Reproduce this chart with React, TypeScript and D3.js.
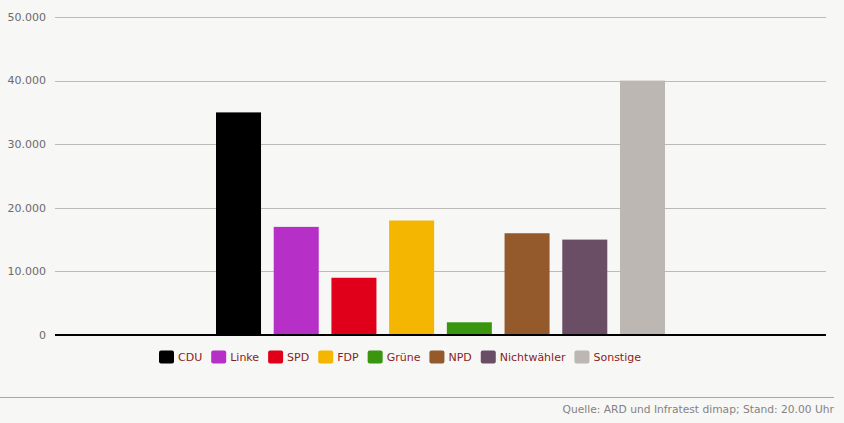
import React, { useEffect, useRef } from "react";
import * as d3 from "d3";

const parties = ["CDU", "Linke", "SPD", "FDP", "Grüne", "NPD", "Nichtwähler", "Sonstige"];
const values = [35000, 17000, 9000, 18000, 2000, 16000, 15000, 40000];
const colors = ["#000000", "#b62fc6", "#e1001a", "#f4b600", "#3a960f", "#955a2b", "#6a4e66", "#bcb7b3"];
const yTicks = [0, 10000, 20000, 30000, 40000, 50000];
const sourceText = "Quelle: ARD und Infratest dimap; Stand: 20.00 Uhr";

const W = 844;
const H = 423;
const FONT = "'DejaVu Sans', Verdana, sans-serif";

export default function App() {
  const ref = useRef<SVGSVGElement | null>(null);

  useEffect(() => {
    const svg = d3.select(ref.current);
    svg.selectAll("*").remove();

    const plotLeft = 55;
    const plotRight = 826;
    const top = 17;
    const bottom = 335;

    svg.append("rect").attr("width", W).attr("height", H).attr("fill", "#f7f7f6");

    const y = d3.scaleLinear().domain([0, 50000]).range([bottom, top]);
    const center = (plotLeft + plotRight) / 2;
    const groupW = 449;
    const x = d3
      .scaleBand<string>()
      .domain(parties)
      .range([center - groupW / 2, center + groupW / 2])
      .paddingInner(0.22)
      .paddingOuter(0);

    const fmt = (v: number) => (v === 0 ? "0" : d3.format(",")(v).replace(/,/g, "."));

    // gridlines
    svg
      .append("g")
      .selectAll("line")
      .data(yTicks.filter((t) => t !== 0))
      .join("line")
      .attr("x1", plotLeft)
      .attr("x2", plotRight)
      .attr("y1", (d) => Math.round(y(d)) + 0.5)
      .attr("y2", (d) => Math.round(y(d)) + 0.5)
      .attr("stroke", "#bfbaba")
      .attr("stroke-width", 1);

    // tick labels
    svg
      .append("g")
      .selectAll("text")
      .data(yTicks)
      .join("text")
      .attr("x", 46)
      .attr("y", (d) => y(d))
      .attr("dy", "0.35em")
      .attr("text-anchor", "end")
      .attr("font-family", FONT)
      .attr("font-size", 11)
      .attr("fill", "#6e6a6a")
      .text((d) => fmt(d));

    // bars
    svg
      .append("g")
      .selectAll("rect")
      .data(parties)
      .join("rect")
      .attr("x", (d) => x(d) as number)
      .attr("width", x.bandwidth())
      .attr("y", (d, i) => y(values[i]))
      .attr("height", (d, i) => bottom - y(values[i]))
      .attr("fill", (d, i) => colors[i]);

    // baseline
    svg
      .append("line")
      .attr("x1", plotLeft)
      .attr("x2", plotRight)
      .attr("y1", bottom)
      .attr("y2", bottom)
      .attr("stroke", "#000")
      .attr("stroke-width", 2);

    // legend
    const legend = svg.append("g");
    const items: { g: any; w: number }[] = [];
    parties.forEach((p, i) => {
      const g = legend.append("g");
      g.append("rect")
        .attr("x", 0)
        .attr("y", -6.5)
        .attr("width", 15)
        .attr("height", 13)
        .attr("rx", 2)
        .attr("fill", colors[i]);
      const t = g
        .append("text")
        .attr("x", 19)
        .attr("y", 0)
        .attr("dy", "0.36em")
        .attr("font-family", FONT)
        .attr("font-size", 11)
        .attr("fill", "#8a1c1c")
        .text(p);
      const tw = (t.node() as SVGTextElement).getComputedTextLength();
      items.push({ g, w: 19 + tw });
    });
    const legendStart = 159;
    const legendEnd = 641;
    const sumW = items.reduce((s, it) => s + it.w, 0);
    const gap = (legendEnd - legendStart - sumW) / (items.length - 1);
    let cx = legendStart;
    items.forEach((it) => {
      it.g.attr("transform", `translate(${cx},357)`);
      cx += it.w + gap;
    });

    // footer separator
    svg
      .append("line")
      .attr("x1", 0)
      .attr("x2", 834)
      .attr("y1", 397.5)
      .attr("y2", 397.5)
      .attr("stroke", "#a9a6a6")
      .attr("stroke-width", 1);

    svg
      .append("text")
      .attr("x", 834)
      .attr("y", 413)
      .attr("text-anchor", "end")
      .attr("font-family", FONT)
      .attr("font-size", 10.7)
      .attr("fill", "#858282")
      .text(sourceText);
  }, []);

  return (
    <div style={{ position: "fixed", left: 0, top: 0, width: W, height: H }}>
      <svg ref={ref} width={W} height={H} style={{ display: "block" }} />
    </div>
  );
}
